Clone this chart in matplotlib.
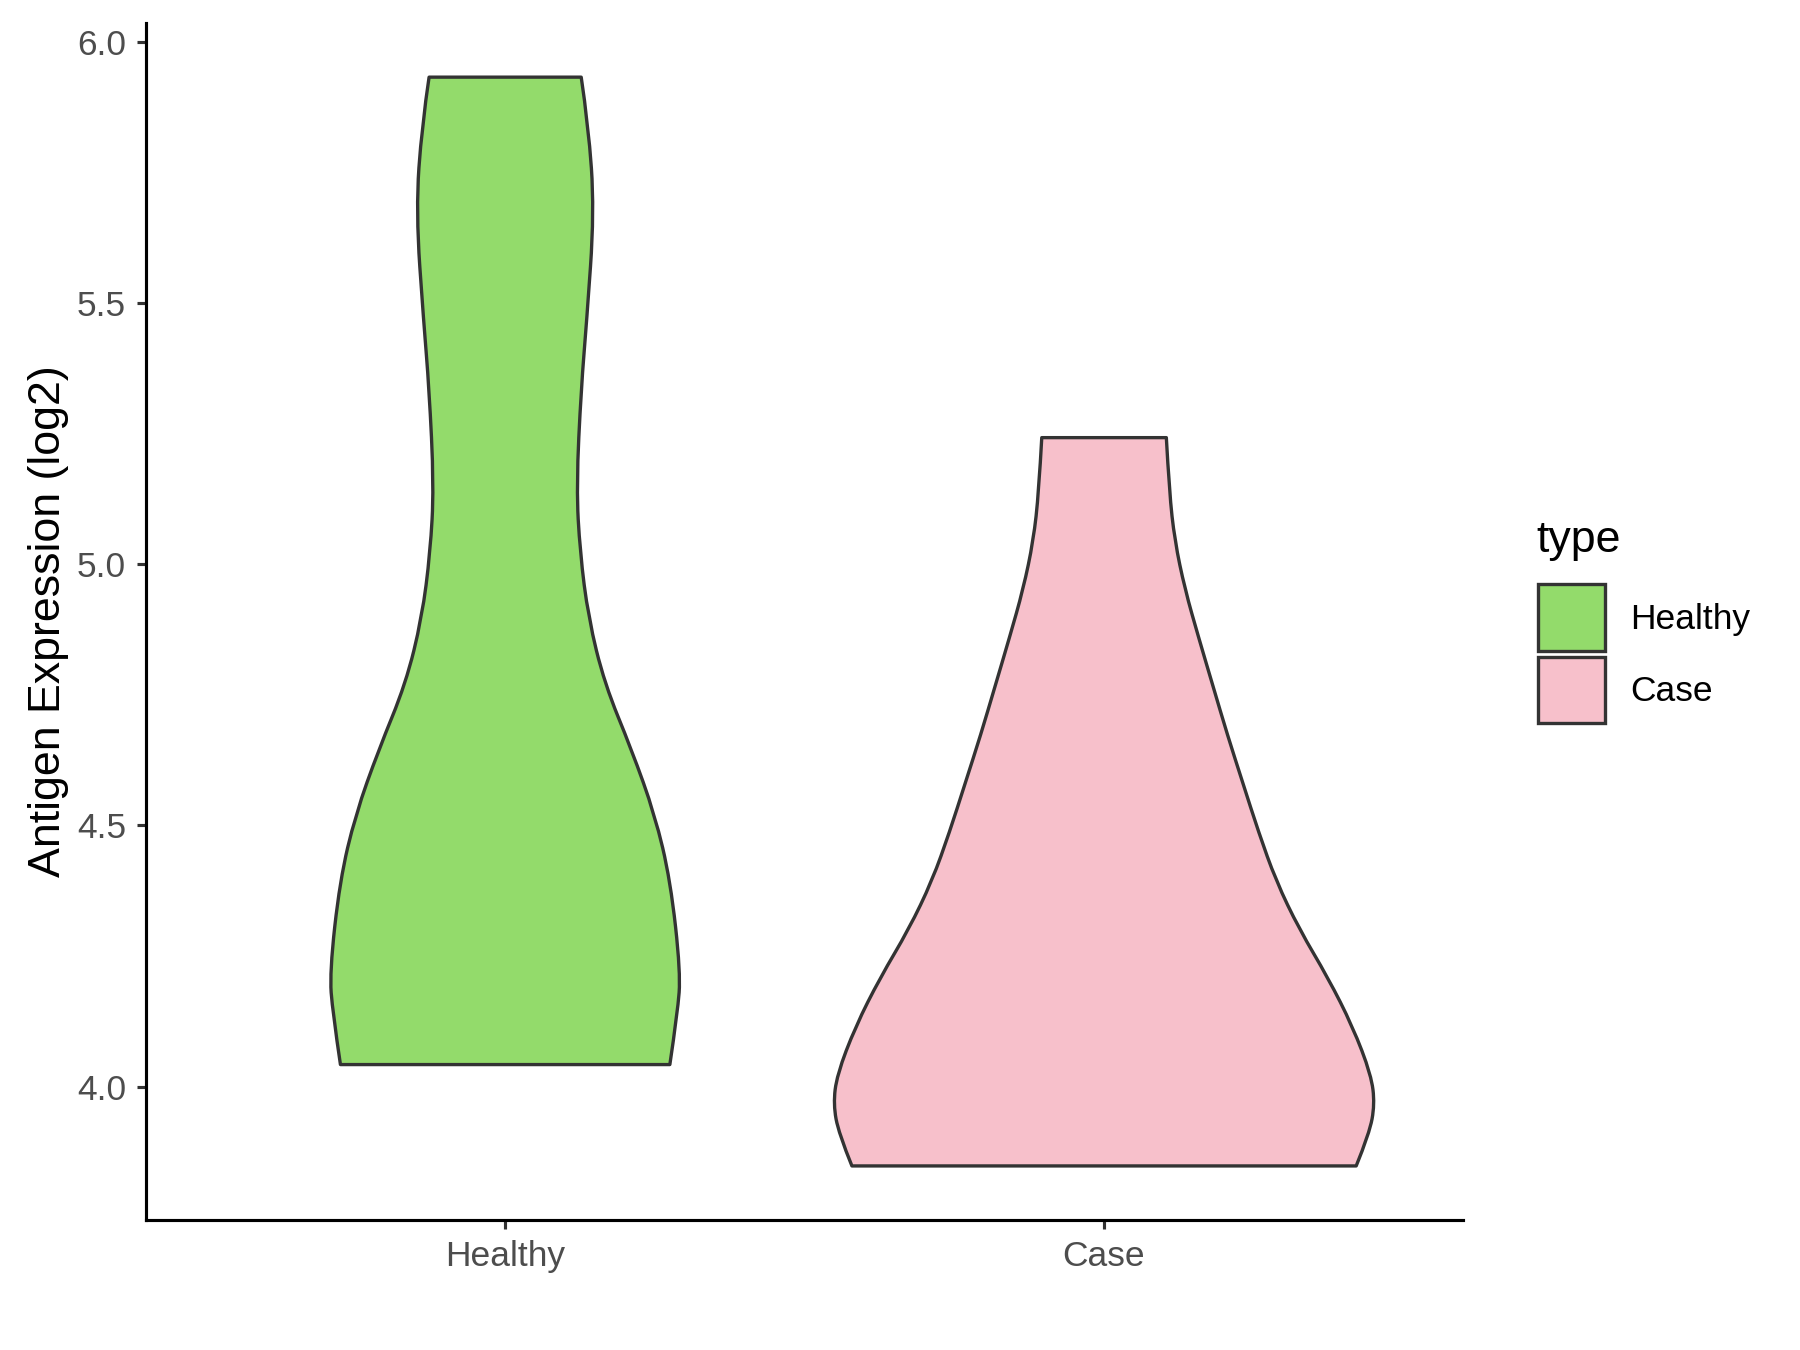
import matplotlib
matplotlib.use("Agg")
import matplotlib.pyplot as plt
from matplotlib.patches import Rectangle, PathPatch
from matplotlib.path import Path

plt.rcParams['font.family'] = ['Liberation Sans', 'DejaVu Sans']

groups = ["Healthy", "Case"]
fill_colors = ["#93DB6B", "#F7C0CB"]

# violin outlines: expression value and half width (in category units)
healthy_y = [5.932, 5.840, 5.676, 5.463, 5.337, 5.148, 5.023, 4.897, 4.771,
             4.645, 4.520, 4.394, 4.218, 4.142, 4.042]
healthy_w = [0.127, 0.139, 0.149, 0.136, 0.127, 0.119, 0.125, 0.139, 0.166,
             0.211, 0.250, 0.276, 0.293, 0.288, 0.275]

case_y = [5.242, 5.138, 5.045, 4.952, 4.859, 4.766, 4.673, 4.580, 4.487,
          4.394, 4.301, 4.208, 4.115, 4.022, 3.966, 3.910, 3.848]
case_w = [0.104, 0.109, 0.118, 0.135, 0.158, 0.182, 0.206, 0.232, 0.258,
          0.287, 0.326, 0.374, 0.415, 0.446, 0.452, 0.443, 0.421]

profiles = [(healthy_y, healthy_w), (case_y, case_w)]

y_ticks = [4.0, 4.5, 5.0, 5.5, 6.0]


def smooth_side(pts):
    # quadratic bezier through midpoints, keeping the end points
    verts = [pts[0]]
    codes = []
    for k in range(1, len(pts) - 1):
        mid = ((pts[k][0] + pts[k + 1][0]) / 2, (pts[k][1] + pts[k + 1][1]) / 2)
        if k == len(pts) - 2:
            mid = pts[k + 1]
        verts += [pts[k], mid]
        codes += [Path.CURVE3, Path.CURVE3]
    return verts, codes


def violin_path(pos, ys, ws):
    left = [(pos - w, y) for w, y in zip(ws, ys)]
    right = [(pos + w, y) for w, y in zip(ws, ys)][::-1]
    lv, lc = smooth_side(left)
    rv, rc = smooth_side(right)
    verts = lv + rv + [lv[0]]
    codes = [Path.MOVETO] + lc + [Path.LINETO] + rc + [Path.CLOSEPOLY]
    return Path(verts, codes)


fig = plt.figure(figsize=(12, 9), dpi=150)
ax = fig.add_axes([0.081, 0.0961, 0.732, 0.887])

edge = "#333333"
for i, (ys, ws) in enumerate(profiles):
    patch = PathPatch(violin_path(i + 1, ys, ws), facecolor=fill_colors[i],
                      edgecolor=edge, lw=1.6, joinstyle="round", zorder=2)
    ax.add_patch(patch)

ax.set_xlim(0.4, 2.6)
ax.set_ylim(3.744, 6.036)
ax.set_xticks([1, 2])
ax.set_xticklabels(groups)
ax.set_yticks(y_ticks)
ax.set_yticklabels([f"{t:.1f}" for t in y_ticks])

for s in ["top", "right"]:
    ax.spines[s].set_visible(False)
for s in ["left", "bottom"]:
    ax.spines[s].set_linewidth(1.5)
    ax.spines[s].set_color("black")
ax.tick_params(axis="both", length=4.4, width=1.5, color="#333333",
               labelsize=17, labelcolor="#4D4D4D", pad=5)
ax.set_ylabel("Antigen Expression (log2)", fontsize=21.5, color="black", labelpad=4)

# legend
fig.text(0.8533, 0.5995, "type", fontsize=21.5, va="center", ha="left")
key_bottoms = [0.5179, 0.4643]
label_ys = [0.5408, 0.4881]
for i, g in enumerate(groups):
    fig.add_artist(Rectangle((0.8546, key_bottoms[i]), 0.037, 0.0493,
                             facecolor=fill_colors[i], edgecolor=edge, lw=1.6,
                             transform=fig.transFigure))
    fig.text(0.9056, label_ys[i], g, fontsize=17, va="center", ha="left")

fig.savefig("out.png", dpi=150)
